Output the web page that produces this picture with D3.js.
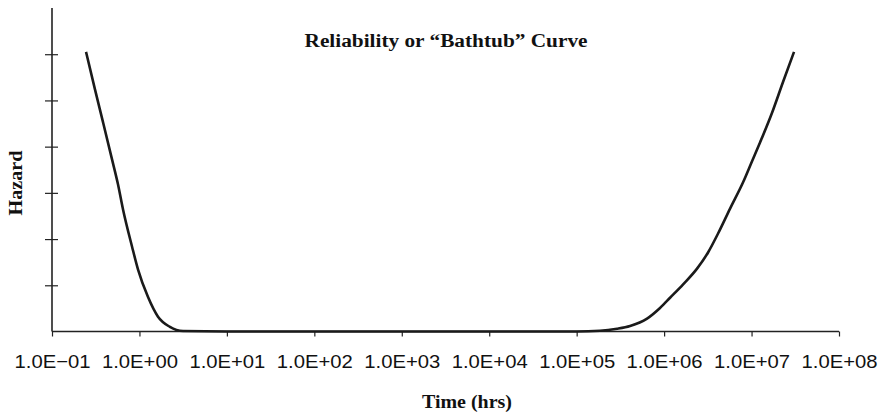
<!DOCTYPE html>
<html>
<head>
<meta charset="utf-8">
<script src="https://cdn.jsdelivr.net/npm/d3@7/dist/d3.min.js"></script>
<style>
	body { margin: 0; background: #fff; }
	svg { display: block; }
	.tick text { font-family: "Liberation Sans", Arial, sans-serif; }
</style>
</head>
<body>
<svg id="chart"></svg>
<script>
	// hours (log scale) and hazard (arbitrary units)
	var times = [0.245, 0.31, 0.383, 0.485, 0.569, 0.649, 0.822, 0.964, 1.25, 1.63, 2.23, 3.15,
			10, 100, 1000, 10000, 100000,
			1.85e5, 2.9e5, 4.08e5, 6.38e5, 8.98e5, 1.17e6, 1.65e6, 2.38e6, 3.18e6, 4.14e6,
			5.68e6, 8.0e6, 1.01e7, 1.25e7, 1.72e7, 2.29e7, 3.06e7],
		hazard = [6.05, 5.24, 4.53, 3.73, 3.18, 2.64, 1.84, 1.34, 0.75, 0.32, 0.10, 0.01,
			0, 0, 0, 0, 0,
			0.015, 0.06, 0.12, 0.28, 0.51, 0.73, 1.02, 1.36, 1.71, 2.12,
			2.66, 3.23, 3.68, 4.09, 4.74, 5.40, 6.05],
		xTicks = [1e-1, 1e0, 1e1, 1e2, 1e3, 1e4, 1e5, 1e6, 1e7, 1e8],
		yTicks = [1, 2, 3, 4, 5, 6];

	var title = 'Reliability or \u201cBathtub\u201d Curve',
		xTitle = 'Time (hrs)',
		yTitle = 'Hazard';

	var width = 884,
		height = 413,
		plotLeft = 52,
		plotRight = 839,
		plotTop = 8,
		plotBottom = 331.5;

	var svg = d3.select('#chart')
		.attr('width', width)
		.attr('height', height);

	var x = d3.scaleLog()
		.domain([1e-1, 1e8])
		.range([plotLeft, plotRight]);

	var y = d3.scaleLinear()
		.domain([0, 7])
		.range([plotBottom, plotTop]);

	var fmt = function (d) {
		var e = Math.round(Math.log10(d)),
			sign = e < 0 ? '\u2212' : '+';
		return '1.0E' + sign + (Math.abs(e) < 10 ? '0' : '') + Math.abs(e);
	};

	// x axis
	var gx = svg.append('g')
		.attr('transform', 'translate(0,' + plotBottom + ')')
		.call(d3.axisBottom(x)
			.tickValues(xTicks)
			.tickFormat(fmt)
			.tickSize(5)
			.tickPadding(18));
	gx.select('.domain')
		.attr('d', 'M' + plotLeft + ',0H' + plotRight)
		.attr('stroke', '#222')
		.attr('stroke-width', 1.6);
	gx.selectAll('.tick line')
		.attr('stroke', '#222')
		.attr('stroke-width', 1.2);
	gx.selectAll('.tick text')
		.attr('fill', '#111')
		.style('font-size', '19px')
		.attr('textLength', 76)
		.attr('lengthAdjust', 'spacingAndGlyphs');

	// y axis, ticks cross the line
	var gy = svg.append('g')
		.attr('transform', 'translate(' + plotLeft + ',0)')
		.call(d3.axisLeft(y)
			.tickValues(yTicks)
			.tickFormat('')
			.tickSize(7));
	gy.select('.domain')
		.attr('d', 'M0,' + plotBottom + 'V' + plotTop)
		.attr('stroke', '#222')
		.attr('stroke-width', 1.6);
	gy.selectAll('.tick line')
		.attr('x1', 6)
		.attr('x2', -7)
		.attr('stroke', '#222')
		.attr('stroke-width', 1.2);

	// curve
	var pts = times.map(function (t, i) {
		return [t, hazard[i]];
	});

	var line = d3.line()
		.x(function (d) {return x(d[0]);})
		.y(function (d) {return y(d[1]);})
		.curve(d3.curveMonotoneX);

	svg.append('path')
		.datum(pts)
		.attr('d', line)
		.attr('fill', 'none')
		.attr('stroke', '#1a1a1a')
		.attr('stroke-width', 2.6)
		.attr('stroke-linejoin', 'round');

	// titles
	svg.append('text')
		.attr('x', 446)
		.attr('y', 47)
		.attr('text-anchor', 'middle')
		.attr('textLength', 283)
		.attr('lengthAdjust', 'spacingAndGlyphs')
		.style('font', 'bold 18px "Liberation Serif", "Times New Roman", serif')
		.attr('fill', '#111')
		.text(title);

	svg.append('text')
		.attr('x', 467)
		.attr('y', 408)
		.attr('text-anchor', 'middle')
		.attr('textLength', 90)
		.attr('lengthAdjust', 'spacingAndGlyphs')
		.style('font', 'bold 18px "Liberation Serif", "Times New Roman", serif')
		.attr('fill', '#111')
		.text(xTitle);

	svg.append('text')
		.attr('transform', 'translate(22,183) rotate(-90)')
		.attr('text-anchor', 'middle')
		.attr('textLength', 65)
		.attr('lengthAdjust', 'spacingAndGlyphs')
		.style('font', 'bold 19px "Liberation Serif", "Times New Roman", serif')
		.attr('fill', '#111')
		.text(yTitle);
</script>
</body>
</html>
